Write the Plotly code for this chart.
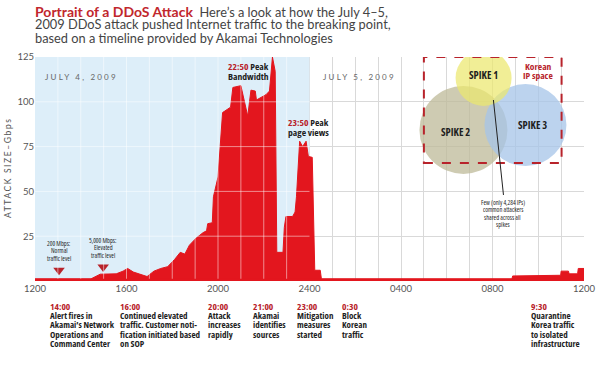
import plotly.graph_objects as go

# ---------------- data ----------------
hours = [12.0, 14.45, 14.85, 15.55, 15.85, 16.05, 16.3, 16.9, 17.2, 17.5, 17.8, 18.1, 18.35, 18.55,
         18.75, 19.05, 19.35, 19.5, 19.55, 19.75, 19.8, 20.0, 20.2, 20.55, 20.65, 21.0, 21.3, 21.44,
         21.63, 21.68, 22.1, 22.25, 22.38, 22.5, 22.57, 22.84, 22.9, 22.97, 23.26, 23.37, 23.43,
         23.57, 23.7, 23.85, 23.95, 24.12, 24.23, 24.47, 24.52, 32.85, 32.88, 34.98, 35.0, 35.32,
         35.35, 35.72, 35.75, 36.0]
gbps = [1.2, 1.2, 3.8, 4.0, 5.5, 7.0, 5.0, 2.5, 5.5, 7.0, 8.0, 12, 16, 15,
        20, 24, 27, 28, 32, 32.5, 47, 58, 94, 97, 108, 109, 92, 106.5,
        106, 101, 104, 106, 125, 117, 16, 16, 30, 36, 36, 38.5, 47,
        78, 75, 78, 69.5, 69, 6, 6, 1.2, 1.2, 2.8, 3.2, 5.5, 5.5,
        4.0, 4.0, 7.0, 7.0]

tick_hours = [12, 16, 20, 24, 28, 32, 36]
tick_labels = ["1200", "1600", "2000", "2400", "0400", "0800", "1200"]
y_ticks = [25, 50, 75, 100, 125]

event_times = ["14:00", "16:00", "20:00", "21:00", "23:00", "0:30", "9:30"]
event_texts = [
    ["Alert fires in", "Akamai\u2019s Network", "Operations and", "Command Center"],
    ["Continued elevated", "traffic. Customer noti-", "fication initiated based", "on SOP"],
    ["Attack", "increases", "rapidly"],
    ["Akamai", "identifies", "sources"],
    ["Mitigation", "measures", "started"],
    ["Block", "Korean", "traffic"],
    ["Quarantine", "Korea traffic", "to isolated", "infrastructure"],
]

note_hours = [13.05, 14.98]
note_levels = [6.0, 7.8]
note_texts = [["200 Mbps:", "Normal", "traffic level"], ["5,000 Mbps:", "Elevated", "traffic level"]]

# ---------------- layout helpers ----------------
W, H = 600, 374
L, R, T, B = 35, 16, 57, 93
PW, PH = W - L - R, H - T - B
def px(x):
    return (x - L) / PW
def py(y):
    return (T + PH - y) / PH

RED = "#e3161e"
DRED = "#b8232b"
TXT = "#1e1e1e"
OPEN = "Open Sans, sans-serif"
SANS = "Lato, Open Sans, sans-serif"
X0, X1 = tick_hours[0], tick_hours[-1]
DAY1_END = tick_hours[3]
YMAX = y_ticks[-1]

def cond(s, extra=""):
    return "<span style='font-stretch:75%%;%s'>%s</span>" % (extra, s)

fig = go.Figure()
fig.add_trace(go.Scatter(x=hours, y=gbps, mode="lines", fill="tozeroy",
                         line=dict(color=RED, width=1), fillcolor=RED, hoverinfo="skip"))
fig.add_trace(go.Scatter(x=note_hours, y=note_levels, mode="markers",
                         marker=dict(symbol="triangle-down", size=10, color=DRED),
                         hoverinfo="skip"))

shapes = []
# July 4 background, covering the gray grid
shapes.append(dict(type="rect", xref="x", yref="y", x0=X0, x1=DAY1_END, y0=0, y1=YMAX,
                   fillcolor="#ddeef9", line=dict(width=0), layer="between"))
# light grid on the July 4 panel (drawn over the red area, as in the print graphic)
for h in range(X0 + 1, DAY1_END):
    shapes.append(dict(type="line", xref="x", yref="y", x0=h, x1=h, y0=0, y1=YMAX,
                       line=dict(color="rgba(255,255,255,0.5)", width=1), layer="above"))
for v in y_ticks[:-1]:
    shapes.append(dict(type="line", xref="x", yref="y", x0=X0, x1=DAY1_END, y0=v, y1=v,
                       line=dict(color="rgba(255,255,255,0.5)", width=1), layer="above"))
# baseline
shapes.append(dict(type="line", xref="x", yref="y", x0=X0, x1=X1, y0=0.4, y1=0.4,
                   line=dict(color=RED, width=3)))
circ = [
    (30.73, 84.3, 44, "rgba(190,186,152,0.75)"),
    (33.44, 87.0, 41, "rgba(165,196,232,0.75)"),
    (31.61, 113.3, 28, "rgba(236,232,110,0.72)"),
]
for hx, lv, r, col in circ:
    shapes.append(dict(type="circle", xref="x", yref="y", xsizemode="pixel", ysizemode="pixel",
                       xanchor=hx, yanchor=lv, x0=-r, x1=r, y0=-r, y1=r,
                       fillcolor=col, line=dict(width=0)))
shapes.append(dict(type="rect", xref="x", yref="y", x0=29.0, x1=35.02, y0=65.8, y1=125,
                   line=dict(color=DRED, width=2, dash="dash"), fillcolor="rgba(0,0,0,0)"))
shapes.append(dict(type="line", xref="x", yref="y", x0=32.04, y0=101, x1=32.48, y1=48,
                   line=dict(color="#222", width=1)))

ann = []
def text(x, y, s, size=10, color=TXT, family=SANS, xanchor="left", yanchor="middle", angle=0):
    ann.append(dict(xref="paper", yref="paper", x=px(x), y=py(y), text=s, showarrow=False,
                    xanchor=xanchor, yanchor=yanchor, textangle=angle, borderpad=0,
                    font=dict(size=size, color=color, family=family)))

text(34, 11, "<b><span style='color:#c1272d;font-size:14px'>Portrait of a DDoS Attack</span></b>"
     "  Here\u2019s a look at how the July 4\u20135,", size=12.8, color="#444")
text(34, 24.5, "2009 DDoS attack pushed Internet traffic to the breaking point,", size=12.8, color="#444")
text(34, 38, "based on a timeline provided by Akamai Technologies", size=12.8, color="#444")

text(8, 168, "<span style='letter-spacing:1.6px'>ATTACK SIZE\u2013Gbps</span>", size=8.5,
     color="#555", xanchor="center", angle=-90)

text(44, 77, "<span style='letter-spacing:2.2px'>JULY 4, 2009</span>", size=8, color="#666")
text(322, 77, "<span style='letter-spacing:2.2px'>JULY 5, 2009</span>", size=8, color="#666")

text(227, 67, cond("<b><span style='color:#b8232b'>22:50</span> Peak</b>"), size=9.6, family=OPEN)
text(227, 76.5, cond("<b>Bandwidth</b>"), size=9.6, family=OPEN)
text(287, 123, cond("<b><span style='color:#b8232b'>23:50</span> Peak</b>"), size=9.6, family=OPEN)
text(287, 132.5, cond("<b>page views</b>"), size=9.6, family=OPEN)

note_x = [59, 103]
note_y = [243.3, 240]
for nx, ny0, lines in zip(note_x, note_y, note_texts):
    for i, s in enumerate(lines):
        text(nx, ny0 + i * 7.6, cond(s), size=6.4, family=OPEN, xanchor="center")

text(483, 75, cond("<b>SPIKE 1</b>"), size=10.5, family=OPEN, xanchor="center")
text(455, 132, cond("<b>SPIKE 2</b>"), size=10.5, family=OPEN, xanchor="center")
text(532, 125, cond("<b>SPIKE 3</b>"), size=10.5, family=OPEN, xanchor="center")
text(538, 66, cond("<b>Korean</b>"), size=9.5, family=OPEN, color=DRED, xanchor="center")
text(538, 75, cond("<b>IP space</b>"), size=9.5, family=OPEN, color=DRED, xanchor="center")
few = ["Few (only 4,284 IPs)", "common attackers", "shared across all", "spikes"]
for i, s in enumerate(few):
    text(503, 202 + i * 7.6, cond(s), size=6.4, family=OPEN, xanchor="center")

event_x = [49, 119, 207, 252, 296, 341, 530]
for ex, t, lines in zip(event_x, event_times, event_texts):
    text(ex, 306, cond("<b>" + t + "</b>"), size=9.5, color=DRED, family=OPEN)
    for i, s in enumerate(lines):
        text(ex, 315.5 + i * 9.4, cond("<b>" + s + "</b>"), size=9, color=TXT, family=OPEN)

fig.update_layout(
    width=W, height=H, margin=dict(l=L, r=R, t=T, b=B, autoexpand=False),
    paper_bgcolor="white", plot_bgcolor="white", showlegend=False,
    shapes=shapes, annotations=ann,
    xaxis=dict(range=[X0, X1], tickvals=tick_hours, ticktext=tick_labels, showgrid=False,
               zeroline=False, showline=False, ticks="", automargin=False,
               tickfont=dict(size=9.5, color="#555", family=SANS),
               minor=dict(dtick=1, showgrid=True, gridcolor="#d9d9d9", gridwidth=1)),
    yaxis=dict(range=[0, YMAX], tickvals=y_ticks, showgrid=True, gridcolor="#d9d9d9",
               zeroline=False, showline=False, ticks="", automargin=False,
               tickfont=dict(size=9.5, color="#555", family=SANS)),
)
fig.write_html("out.html", config={"displayModeBar": False},
               post_script="document.body.style.margin='0';")
